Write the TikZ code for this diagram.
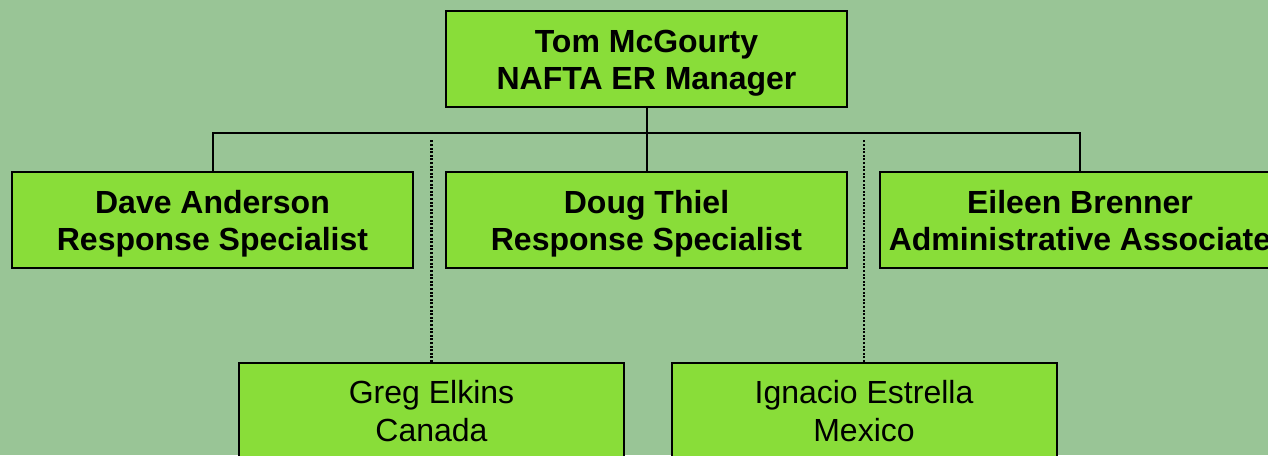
\documentclass[tikz,border=0pt]{standalone}
\usepackage{fontspec}
\setmainfont{Liberation Sans}
\definecolor{bgGreen}{RGB}{153,197,150}
\definecolor{boxGreen}{RGB}{137,221,57}

\begin{document}
\begin{tikzpicture}[x=1pt, y=-1pt,
	staff/.style={draw, line width=2pt, fill=boxGreen, minimum width=401pt, minimum height=96pt, inner sep=0pt, align=center,
		font=\fontsize{32}{37}\selectfont\bfseries, text height=66.7pt, text depth=6.7pt},
	field/.style={staff, minimum width=385pt, minimum height=98pt, font=\fontsize{32}{38}\selectfont, text height=64.7pt},
	link/.style={line width=2pt},
	dotlink/.style={line width=2.2pt, dash pattern=on 2pt off 1.6pt}]
	\useasboundingbox (0,0) rectangle (1268,455);
	\fill[bgGreen] (0,0) rectangle (1268,455);
	\clip (0,0) rectangle (1268,455);
	
	%nodes
	\node (tom) [staff] at (646.5,59)                          {Tom McGourty\\NAFTA ER Manager};
	
	\node (doug)[staff, below of=tom, node distance=161pt]     {Doug Thiel\\Response Specialist};
	\node (dave)[staff, left of=doug, node distance=434pt]     {Dave Anderson\\Response Specialist};
	\node (eileen)[staff, right of=doug, node distance=433.5pt] {Eileen Brenner\\Administrative Associate};
	
	\node (greg) [field] at (431.5,412)                        {Greg Elkins\\Canada};
	\node (ignacio)[field, right of=greg, node distance=432.5pt] {Ignacio Estrella\\Mexico};
	
	\coordinate (bus) at (646.5,133);
	\coordinate (dots) at (0,140);
	
	%links
	\draw[link] (tom) -- (doug);
	\draw[link] (dave.north) |- (bus) -| (eileen.north);
	\draw[dotlink] (greg.north) -- (greg.north |- dots);
	\draw[dotlink] (ignacio.north) -- (ignacio.north |- dots);
\end{tikzpicture}
\end{document}
